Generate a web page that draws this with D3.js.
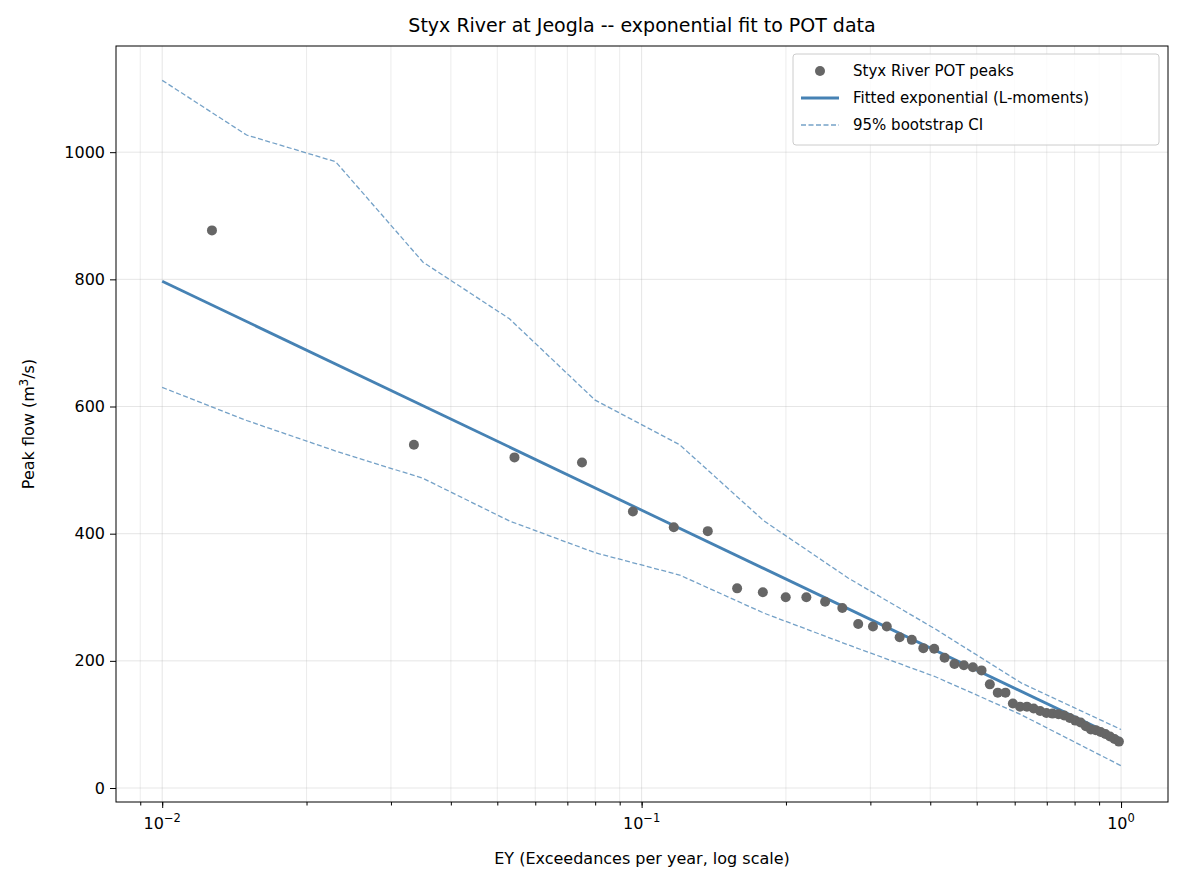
<!DOCTYPE html><html><head><meta charset="utf-8"><script src="https://cdn.jsdelivr.net/npm/d3@7"></script>
<style>body{margin:0;background:#fff}text{font-family:"DejaVu Sans",sans-serif}</style></head><body><svg id="c" width="1183" height="884"></svg>
<script>
const ey=[0.0127,0.0335,0.0543,0.0751,0.0959,0.1167,0.1374,0.1582,0.1790,0.1998,0.2206,0.2414,0.2622,0.2830,0.3038,0.3246,0.3453,0.3661,0.3869,0.4077,0.4285,0.4493,0.4701,0.4909,0.5117,0.5325,0.5532,0.5740,0.5948,0.6156,0.6364,0.6572,0.6780,0.6988,0.7196,0.7404,0.7611,0.7819,0.8027,0.8235,0.8443,0.8651,0.8859,0.9067,0.9275,0.9483,0.9690,0.9898];
const peaks=[877,540,520,512,435,410,404,314,308,300,300,293,283,258,254,254,237,233,220,219,205,195,193,190,185,163,150,150,133,128,128,125,121,118,117,116,114,110,106,103,97,92,91,88,85,81,77,73];
const fitEY=[0.01,1];
const fitQ=[797,77];
const ciEY=[0.01,0.015,0.023,0.035,0.053,0.08,0.12,0.18,0.27,0.41,0.62,1];
const ciUpper=[1113,1027,985,827,738,610,540,420,330,250,165,92];
const ciLower=[630,578,530,487,420,370,335,275,225,175,115,35];
const yTicks=[0,200,400,600,800,1000];

const svg=d3.select("#c");
const L=116,R=1168,T=46,B=802;
const x=d3.scaleLog().domain([0.00801,1.253]).range([L,R]);
const y=d3.scaleLinear().domain([-22,1167]).range([B,T]);
const g=svg.append("g");
const minors=[];for(let e=-3;e<=0;e++)for(let k=1;k<10;k++){const v=k*Math.pow(10,e);if(v>=0.00801&&v<=1.253)minors.push(v);}
g.selectAll(".vg").data(minors).join("line").attr("x1",d=>x(d)).attr("x2",d=>x(d)).attr("y1",T).attr("y2",B).attr("stroke","#b0b0b0").attr("stroke-opacity",d=>[0.01,0.1,1].some(m=>Math.abs(d-m)<1e-9)?0.4:0.3).attr("stroke-width",0.8);
g.selectAll(".hg").data(yTicks).join("line").attr("x1",L).attr("x2",R).attr("y1",d=>y(d)).attr("y2",d=>y(d)).attr("stroke","#b0b0b0").attr("stroke-opacity",0.4).attr("stroke-width",0.8);
const line=d3.line().x(d=>x(d[0])).y(d=>y(d[1]));
const ciStyle=s=>s.attr("fill","none").attr("stroke","#4682b4").attr("stroke-opacity",0.75).attr("stroke-width",1.3).attr("stroke-dasharray","5,2.5");
g.append("path").attr("d",line(ciEY.map((e,i)=>[e,ciUpper[i]]))).call(ciStyle);
g.append("path").attr("d",line(ciEY.map((e,i)=>[e,ciLower[i]]))).call(ciStyle);
g.append("path").attr("d",line(fitEY.map((e,i)=>[e,fitQ[i]]))).attr("fill","none").attr("stroke","#4682b4").attr("stroke-width",2.8);
g.selectAll(".pt").data(ey).join("circle").attr("cx",d=>x(d)).attr("cy",(d,i)=>y(peaks[i])).attr("r",5).attr("fill","#666");
const xa=svg.append("g").attr("transform",`translate(0,${B})`).call(d3.axisBottom(x).tickValues(minors).tickSize(3.5).tickFormat(""));
const maj=svg.append("g").attr("transform",`translate(0,${B})`).call(d3.axisBottom(x).tickValues([0.01,0.1,1]).tickSize(6).tickFormat(""));
[[0.01,"−2"],[0.1,"−1"],[1,"0"]].forEach(([v,e])=>{const t=svg.append("text").attr("x",x(v)).attr("y",B+27).attr("text-anchor","middle").attr("font-size",16);t.append("tspan").text("10");t.append("tspan").attr("dy",-7).attr("font-size",11.5).text(e);});
const ya=svg.append("g").attr("transform",`translate(${L},0)`).call(d3.axisLeft(y).tickValues(yTicks).tickSize(6).tickPadding(5).tickFormat(d3.format("d")));
ya.selectAll("text").attr("font-size",16).attr("font-family","DejaVu Sans");
svg.selectAll(".domain").remove();
svg.append("rect").attr("x",L).attr("y",T).attr("width",R-L).attr("height",B-T).attr("fill","none").attr("stroke","#000").attr("stroke-width",1);
svg.append("text").attr("x",(L+R)/2).attr("y",32).attr("text-anchor","middle").attr("font-size",19).text("Styx River at Jeogla -- exponential fit to POT data");
svg.append("text").attr("x",(L+R)/2).attr("y",864).attr("text-anchor","middle").attr("font-size",16).text("EY (Exceedances per year, log scale)");
const yl=svg.append("text").attr("transform",`translate(34,${(T+B)/2}) rotate(-90)`).attr("text-anchor","middle").attr("font-size",16);
yl.append("tspan").text("Peak flow (m");yl.append("tspan").attr("dy",-6).attr("font-size",11.5).text("3");yl.append("tspan").attr("dy",6).text("/s)");
const lg=svg.append("g").attr("transform","translate(793,54)");
lg.append("rect").attr("width",366).attr("height",91).attr("rx",3).attr("fill","#fff").attr("fill-opacity",0.8).attr("stroke","#ccc");
lg.append("circle").attr("cx",27).attr("cy",17).attr("r",5).attr("fill","#666");
lg.append("line").attr("x1",8).attr("x2",46).attr("y1",44).attr("y2",44).attr("stroke","#4682b4").attr("stroke-width",2.8);
lg.append("line").attr("x1",8).attr("x2",46).attr("y1",71).attr("y2",71).call(ciStyle);
["Styx River POT peaks","Fitted exponential (L-moments)","95% bootstrap CI"].forEach((t,i)=>lg.append("text").attr("x",60).attr("y",22+i*27).attr("font-size",15).text(t));
</script></body></html>
